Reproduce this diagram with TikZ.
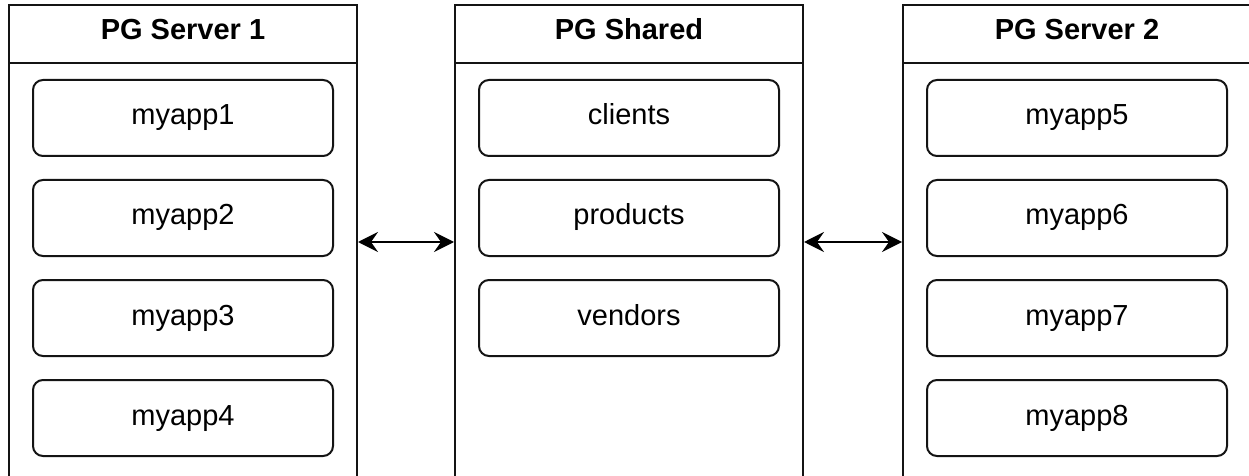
\documentclass[tikz,border=0pt]{standalone}
\usepackage{fontspec}
\setmainfont{Liberation Sans}
\usetikzlibrary{arrows.meta}
\definecolor{boxline}{RGB}{20, 20, 20}

\tikzset{
  container/.style={draw=boxline, line width=1pt, minimum width=174pt, minimum height=237pt, inner sep=0pt},
  head/.style={draw=boxline, line width=1pt, minimum width=174pt, minimum height=29pt, inner sep=0pt,
    text height=10pt, text depth=4pt, font=\fontsize{14.5}{17}\selectfont\bfseries},
  app/.style={draw=boxline, line width=1pt, rounded corners=5pt, minimum width=150pt, minimum height=38pt,
    inner sep=0pt, text height=10pt, text depth=3pt, font=\fontsize{14.5}{17}\selectfont},
  link/.style={{Stealth[length=10pt,width=10pt,inset=3.5pt]}-{Stealth[length=10pt,width=10pt,inset=3.5pt]}, line width=1pt}
}

\begin{document}
\begin{tikzpicture}[x=0.5pt, y=-0.5pt]
      \clip (0,0) rectangle (1249,476);
      \fill[white] (0,0) rectangle (1249,476);

      % Servers
      \node[container] (srv1) at (183, 242) {};
      \node[container] (shared) at (629, 242) {};
      \node[container] (srv2) at (1077, 242) {};

      \node[head, anchor=north] (srv1head) at (srv1.north) {PG Server 1};
      \node[head, anchor=north] (sharedhead) at (shared.north) {PG Shared};
      \node[head, anchor=north] (srv2head) at (srv2.north) {PG Server 2};

      % Databases
      \foreach \i in {1, ..., 4} {
        \node[app] (app\i) at (183, {18 + 100*\i}) {myapp\i};
      }
      \foreach \t [count=\i from 1] in {clients, products, vendors} {
        \node[app] (tbl\i) at (629, {18 + 100*\i}) {\t};
      }
      \foreach \i in {5, ..., 8} {
        \node[app] (app\i) at (1077, {18 + 100*(\i - 4)}) {myapp\i};
      }

      % Links
      \draw[link] (srv1.east) -- (shared.west);
      \draw[link] (shared.east) -- (srv2.west);
    \end{tikzpicture}
\end{document}
